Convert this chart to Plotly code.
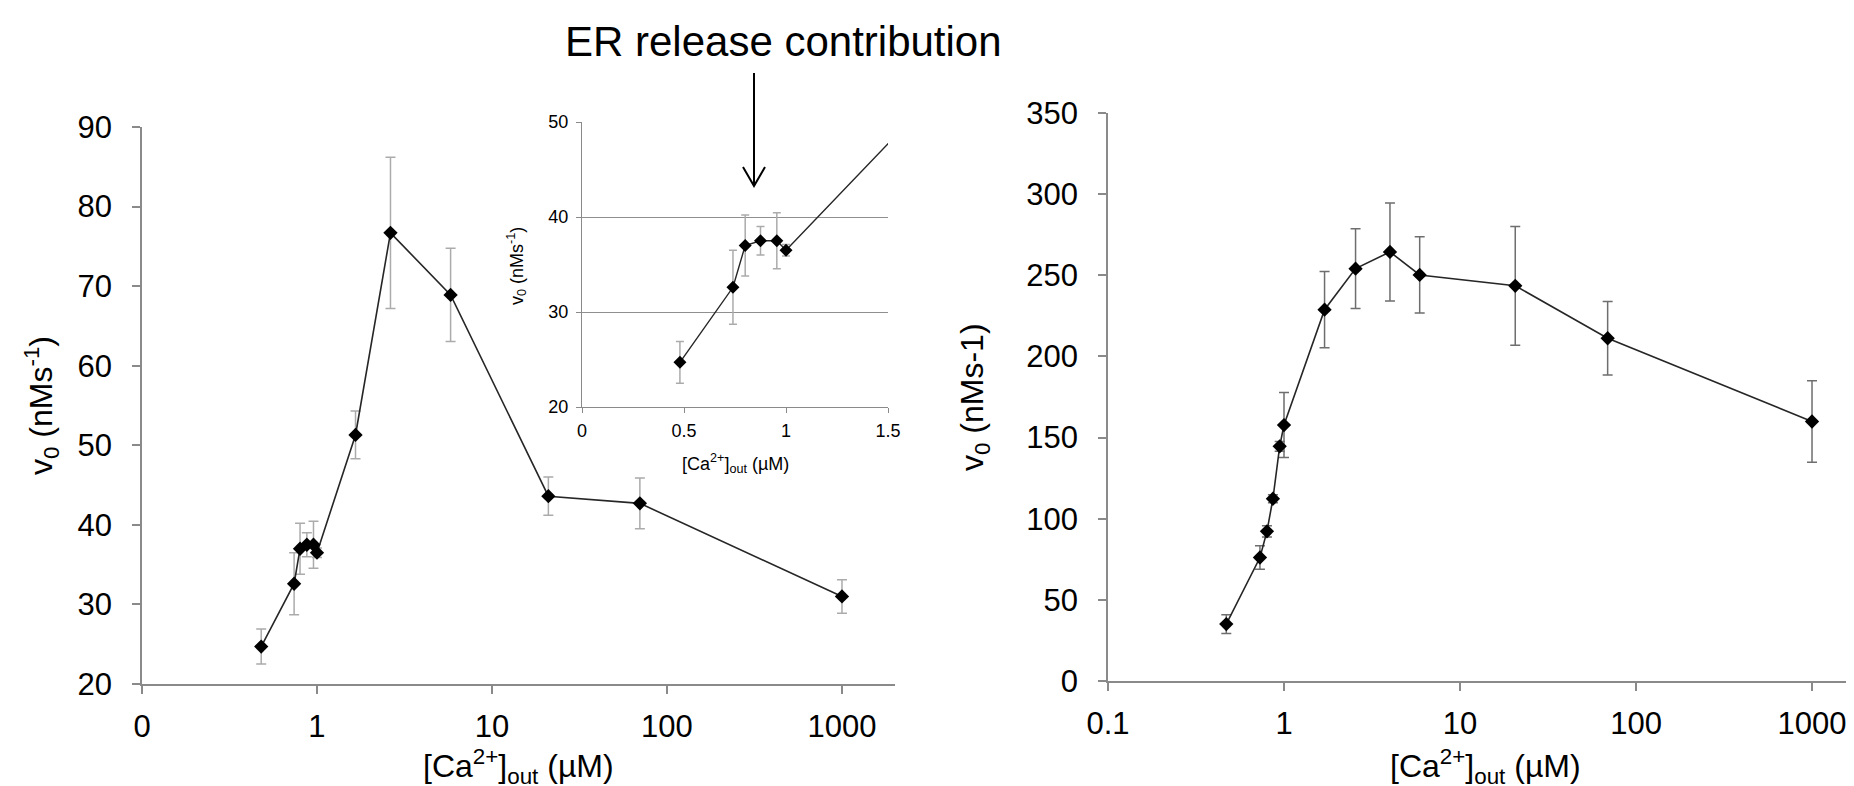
import plotly.graph_objects as go

W, H = 1854, 786

# ---------------- data ----------------
left_x = [0.48, 0.74, 0.80, 0.875, 0.955, 1.0, 1.66, 2.63, 5.8, 21, 70, 1000]
left_y = [24.7, 32.6, 37.0, 37.5, 37.5, 36.5, 51.3, 76.7, 68.9, 43.6, 42.7, 31.0]
left_err = [2.2, 3.9, 3.2, 1.5, 2.95, 0.6, 3.0, 9.5, 5.85, 2.4, 3.2, 2.1]

right_x = [0.47, 0.73, 0.80, 0.865, 0.945, 1.0, 1.7, 2.55, 4.0, 5.9, 20.6, 69, 1000]
right_y = [35.1, 76.1, 92.2, 112.3, 144.6, 157.7, 228.8, 254.1, 264.4, 250.2, 243.5, 211.2, 159.9]
right_err = [5.8, 7.3, 3.4, 2.4, 3.0, 20.0, 23.5, 24.5, 30.2, 23.5, 36.6, 22.7, 25.1]

log_tickvals = [0.1, 1, 10, 100, 1000]
left_ticktext = ["0", "1", "10", "100", "1000"]
right_ticktext = ["0.1", "1", "10", "100", "1000"]

FONT = "Liberation Sans, Arial, sans-serif"
AXC = "#8a8a8a"


def px(x):
    return x / W


def py(y):
    return 1 - y / H


fig = go.Figure()

marker = dict(symbol="diamond", size=11, color="black")
line = dict(color="#262626", width=1.6)

fig.add_trace(go.Scatter(
    x=left_x, y=left_y, mode="lines+markers", marker=marker, line=line,
    error_y=dict(type="data", array=left_err, color="#ababab", thickness=1.5, width=5),
    xaxis="x", yaxis="y", showlegend=False))

fig.add_trace(go.Scatter(
    x=left_x, y=left_y, mode="lines+markers", marker=dict(symbol="diamond", size=10, color="black"),
    line=dict(color="#262626", width=1.4),
    error_y=dict(type="data", array=left_err, color="#ababab", thickness=1.5, width=4),
    xaxis="x2", yaxis="y2", showlegend=False))

fig.add_trace(go.Scatter(
    x=right_x, y=right_y, mode="lines+markers", marker=marker, line=line,
    error_y=dict(type="data", array=right_err, color="#6e6e6e", thickness=1.5, width=5),
    xaxis="x3", yaxis="y3", showlegend=False))

tickfont = dict(family=FONT, size=31, color="black")
insetfont = dict(family=FONT, size=18, color="black")

common = dict(showline=True, linecolor=AXC, linewidth=1.6, ticks="outside",
              tickcolor=AXC, tickwidth=1.6, ticklen=8, showgrid=False, zeroline=False,
              automargin=False)
inset_common = dict(showline=True, linecolor=AXC, linewidth=1.4, ticks="outside",
                    tickcolor=AXC, tickwidth=1.4, ticklen=5, zeroline=False,
                    automargin=False, tickfont=insetfont)

fig.update_layout(
    template="none",
    width=W, height=H,
    margin=dict(l=0, r=0, t=0, b=0, autoexpand=False),
    paper_bgcolor="white", plot_bgcolor="rgba(0,0,0,0)",
    font=dict(family=FONT, color="black"),
    xaxis=dict(domain=[px(134), px(887)], type="log", range=[-1, 3.303],
               tickvals=log_tickvals, ticktext=left_ticktext, tickfont=tickfont,
               anchor="y", ticklabelstandoff=6, **common),
    yaxis=dict(domain=[py(676), py(119)], range=[20, 90], dtick=10, tickfont=tickfont,
               anchor="x", ticklabelstandoff=14, **common),
    xaxis2=dict(domain=[px(574), px(880)], range=[0, 1.5], dtick=0.5,
                anchor="y2", showgrid=False, ticklabelstandoff=2, **inset_common),
    yaxis2=dict(domain=[py(399), py(114)], range=[20, 50], dtick=10,
                anchor="x2", showgrid=True, gridcolor="#8f8f8f", gridwidth=1.4,
                ticklabelstandoff=4, **inset_common),
    xaxis3=dict(domain=[px(1100), 1.0], type="log", range=[-1, 3.284],
                tickvals=log_tickvals, ticktext=right_ticktext, tickfont=tickfont,
                anchor="y3", ticklabelstandoff=6, **common),
    yaxis3=dict(domain=[py(673), py(105)], range=[0, 350], dtick=50, tickfont=tickfont,
                anchor="x3", ticklabelstandoff=14, **common),
)

titlefont = dict(family=FONT, size=32, color="black")
annos = [
    dict(text="ER release contribution", x=px(775), y=py(33), font=dict(family=FONT, size=42, color="black")),
    dict(text="[Ca<sup>2+</sup>]<sub>out</sub> (µM)", x=px(510), y=py(758), font=titlefont),
    dict(text="[Ca<sup>2+</sup>]<sub>out</sub> (µM)", x=px(1477), y=py(758), font=titlefont),
    dict(text="v<sub>0</sub> (nMs<sup>-1</sup>)", x=px(33), y=py(398), textangle=-90, font=titlefont),
    dict(text="v<sub>0</sub> (nMs-1)", x=px(966), y=py(389), textangle=-90, font=titlefont),
    dict(text="[Ca<sup>2+</sup>]<sub>out</sub> (µM)", x=px(727), y=py(455), font=insetfont),
    dict(text="v<sub>0</sub> (nMs<sup>-1</sup>)", x=px(508), y=py(258), textangle=-90, font=insetfont),
]
for a in annos:
    a.update(xref="paper", yref="paper", showarrow=False, xanchor="center", yanchor="middle")
    fig.add_annotation(**a)

# arrow pointing down to the ER release region of the inset
ax0, ay0, ay1 = 746, 65, 178
fig.add_shape(type="path", xref="paper", yref="paper",
              path=(f"M {px(ax0)},{py(ay0)} L {px(ax0)},{py(ay1)} "
                    f"M {px(ax0 - 11)},{py(ay1 - 19)} L {px(ax0)},{py(ay1)} L {px(ax0 + 11)},{py(ay1 - 19)}"),
              line=dict(color="black", width=2))

fig.write_html("out.html")
